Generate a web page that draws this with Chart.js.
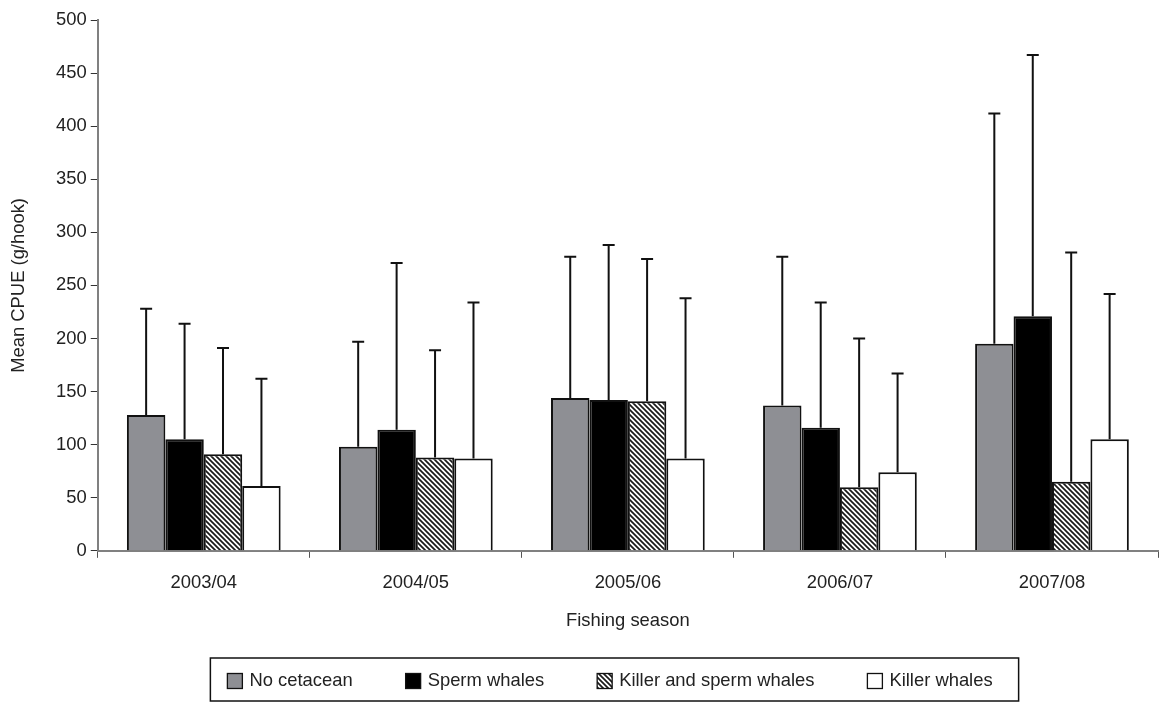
<!DOCTYPE html>
<html>
<head>
<meta charset="utf-8">
<title>Mean CPUE by fishing season</title>
<script src="https://cdn.jsdelivr.net/npm/chart.js@4.4.1/dist/chart.umd.min.js"></script>
<style>
  html, body { margin: 0; padding: 0; background: #fff; }
  #wrap { width: 1160px; height: 702px; }
</style>
</head>
<body>
<div id="wrap"><canvas id="cpueChart" width="1160" height="702"></canvas></div>
<script>
// -------------------------------
// DATA
// -------------------------------
const seasons = ['2003/04', '2004/05', '2005/06', '2006/07', '2007/08'];
const seriesNames = ['No cetacean', 'Sperm whales', 'Killer and sperm whales', 'Killer whales'];

// mean CPUE (g/hook)
const noCetacean   = [128,  98, 144, 137, 195];
const spermWhales  = [105, 114, 142, 116, 221];
const killerSperm  = [ 91,  88, 141,  60,  65];
const killerWhales = [ 61,  87,  87,  74, 105];

// top of the error bar (mean + SD)
const noCetaceanUpper   = [228, 197, 277, 277, 412];
const spermWhalesUpper  = [214, 271, 288, 234, 467];
const killerSpermUpper  = [191, 189, 275, 200, 281];
const killerWhalesUpper = [162, 234, 238, 167, 242];

// y axis
const yMin = 0;
const yMax = 500;
const yStep = 50;

const upperLimits = [noCetaceanUpper, spermWhalesUpper, killerSpermUpper, killerWhalesUpper];

const FONT = '"Liberation Sans", Arial, sans-serif';
const FONT_SIZE = 18.4;
const TEXT = '#222';

// hatch pattern for "Killer and sperm whales"
function makeHatch() {
    const c = document.createElement('canvas');
    c.width = 5;
    c.height = 5;
    const g = c.getContext('2d');
    g.fillStyle = '#fff';
    g.fillRect(0, 0, 5, 5);
    g.strokeStyle = '#1a1a1a';
    g.lineWidth = 1.7;
    g.beginPath();
    g.moveTo(-1, -1); g.lineTo(6, 6);
    g.moveTo(-1, 4);  g.lineTo(1, 6);
    g.moveTo(4, -1);  g.lineTo(6, 1);
    g.stroke();
    return g.createPattern(c, 'repeat');
}

// -------------------------------
// PLUGINS
// -------------------------------
const errorBars = {
    id: 'errorBars',
    afterDatasetsDraw(chart) {
        const ctx = chart.ctx;
        const yScale = chart.scales.y;
        ctx.save();
        ctx.strokeStyle = '#111';
        ctx.lineWidth = 2;
        chart.data.datasets.forEach((ds, i) => {
            const meta = chart.getDatasetMeta(i);
            meta.data.forEach((bar, j) => {
                const yTop = yScale.getPixelForValue(upperLimits[i][j]);
                const x = bar.x;
                ctx.beginPath();
                ctx.moveTo(x, bar.y);
                ctx.lineTo(x, yTop);
                ctx.moveTo(x - 6, yTop);
                ctx.lineTo(x + 6, yTop);
                ctx.stroke();
            });
        });
        ctx.restore();
    }
};

// legend with a frame round it, like the original
const boxedLegend = {
    id: 'boxedLegend',
    afterDraw(chart) {
        const ctx = chart.ctx;
        ctx.save();
        ctx.font = FONT_SIZE + 'px ' + FONT;
        const box = 15, textGap = 7, itemGap = 53;
        const items = chart.data.datasets.map(ds => ({
            label: ds.label,
            fill: ds.backgroundColor,
            w: box + textGap + ctx.measureText(ds.label).width
        }));
        const total = items.reduce((s, it) => s + it.w, 0) + itemGap * (items.length - 1);
        let x = 610 - total / 2;
        const cy = 681;

        ctx.strokeStyle = '#111';
        ctx.lineWidth = 1.5;
        ctx.strokeRect(x - 17, 658, total + 43, 43);

        items.forEach(it => {
            ctx.fillStyle = it.fill;
            ctx.fillRect(x, cy - 7.5, box, box);
            ctx.lineWidth = 1.3;
            ctx.strokeStyle = '#111';
            ctx.strokeRect(x, cy - 7.5, box, box);
            ctx.fillStyle = TEXT;
            ctx.textAlign = 'left';
            ctx.textBaseline = 'middle';
            ctx.fillText(it.label, x + box + textGap, cy);
            x += it.w + itemGap;
        });
        ctx.restore();
    }
};

// -------------------------------
// CHART
// -------------------------------
Chart.defaults.font.family = FONT;
Chart.defaults.font.size = FONT_SIZE;
Chart.defaults.color = TEXT;

const barStyle = { borderColor: '#111', borderWidth: 2, borderSkipped: 'start' };

new Chart(document.getElementById('cpueChart'), {
    type: 'bar',
    data: {
        labels: seasons,
        datasets: [
            Object.assign({ label: seriesNames[0], data: noCetacean,   backgroundColor: '#8e8f94' }, barStyle),
            Object.assign({ label: seriesNames[1], data: spermWhales,  backgroundColor: '#000000' }, barStyle),
            Object.assign({ label: seriesNames[2], data: killerSperm,  backgroundColor: makeHatch() }, barStyle),
            Object.assign({ label: seriesNames[3], data: killerWhales, backgroundColor: '#ffffff' }, barStyle)
        ]
    },
    options: {
        responsive: false,
        animation: false,
        devicePixelRatio: 1,
        layout: { padding: { top: 20, right: 2, bottom: 70, left: 4 } },
        datasets: { bar: { categoryPercentage: 0.725, barPercentage: 1.0 } },
        plugins: {
            legend: { display: false },
            tooltip: { enabled: false }
        },
        scales: {
            x: {
                grid: { display: true, drawOnChartArea: false, offset: true, tickLength: 7, color: '#555', lineWidth: 1 },
                border: { display: true, color: '#808080', width: 2 },
                ticks: { padding: 14, color: TEXT },
                title: { display: true, text: 'Fishing season', padding: { top: 2, bottom: 0 }, color: TEXT }
            },
            y: {
                min: yMin,
                max: yMax,
                grid: { display: true, drawOnChartArea: false, tickLength: 7, color: '#333', lineWidth: 1 },
                border: { display: true, color: '#808080', width: 2 },
                ticks: { stepSize: yStep, padding: 4, color: TEXT },
                title: { display: true, text: 'Mean CPUE (g/hook)', padding: { top: 4, bottom: 22 }, color: TEXT }
            }
        }
    },
    plugins: [errorBars, boxedLegend]
});
</script>
</body>
</html>
